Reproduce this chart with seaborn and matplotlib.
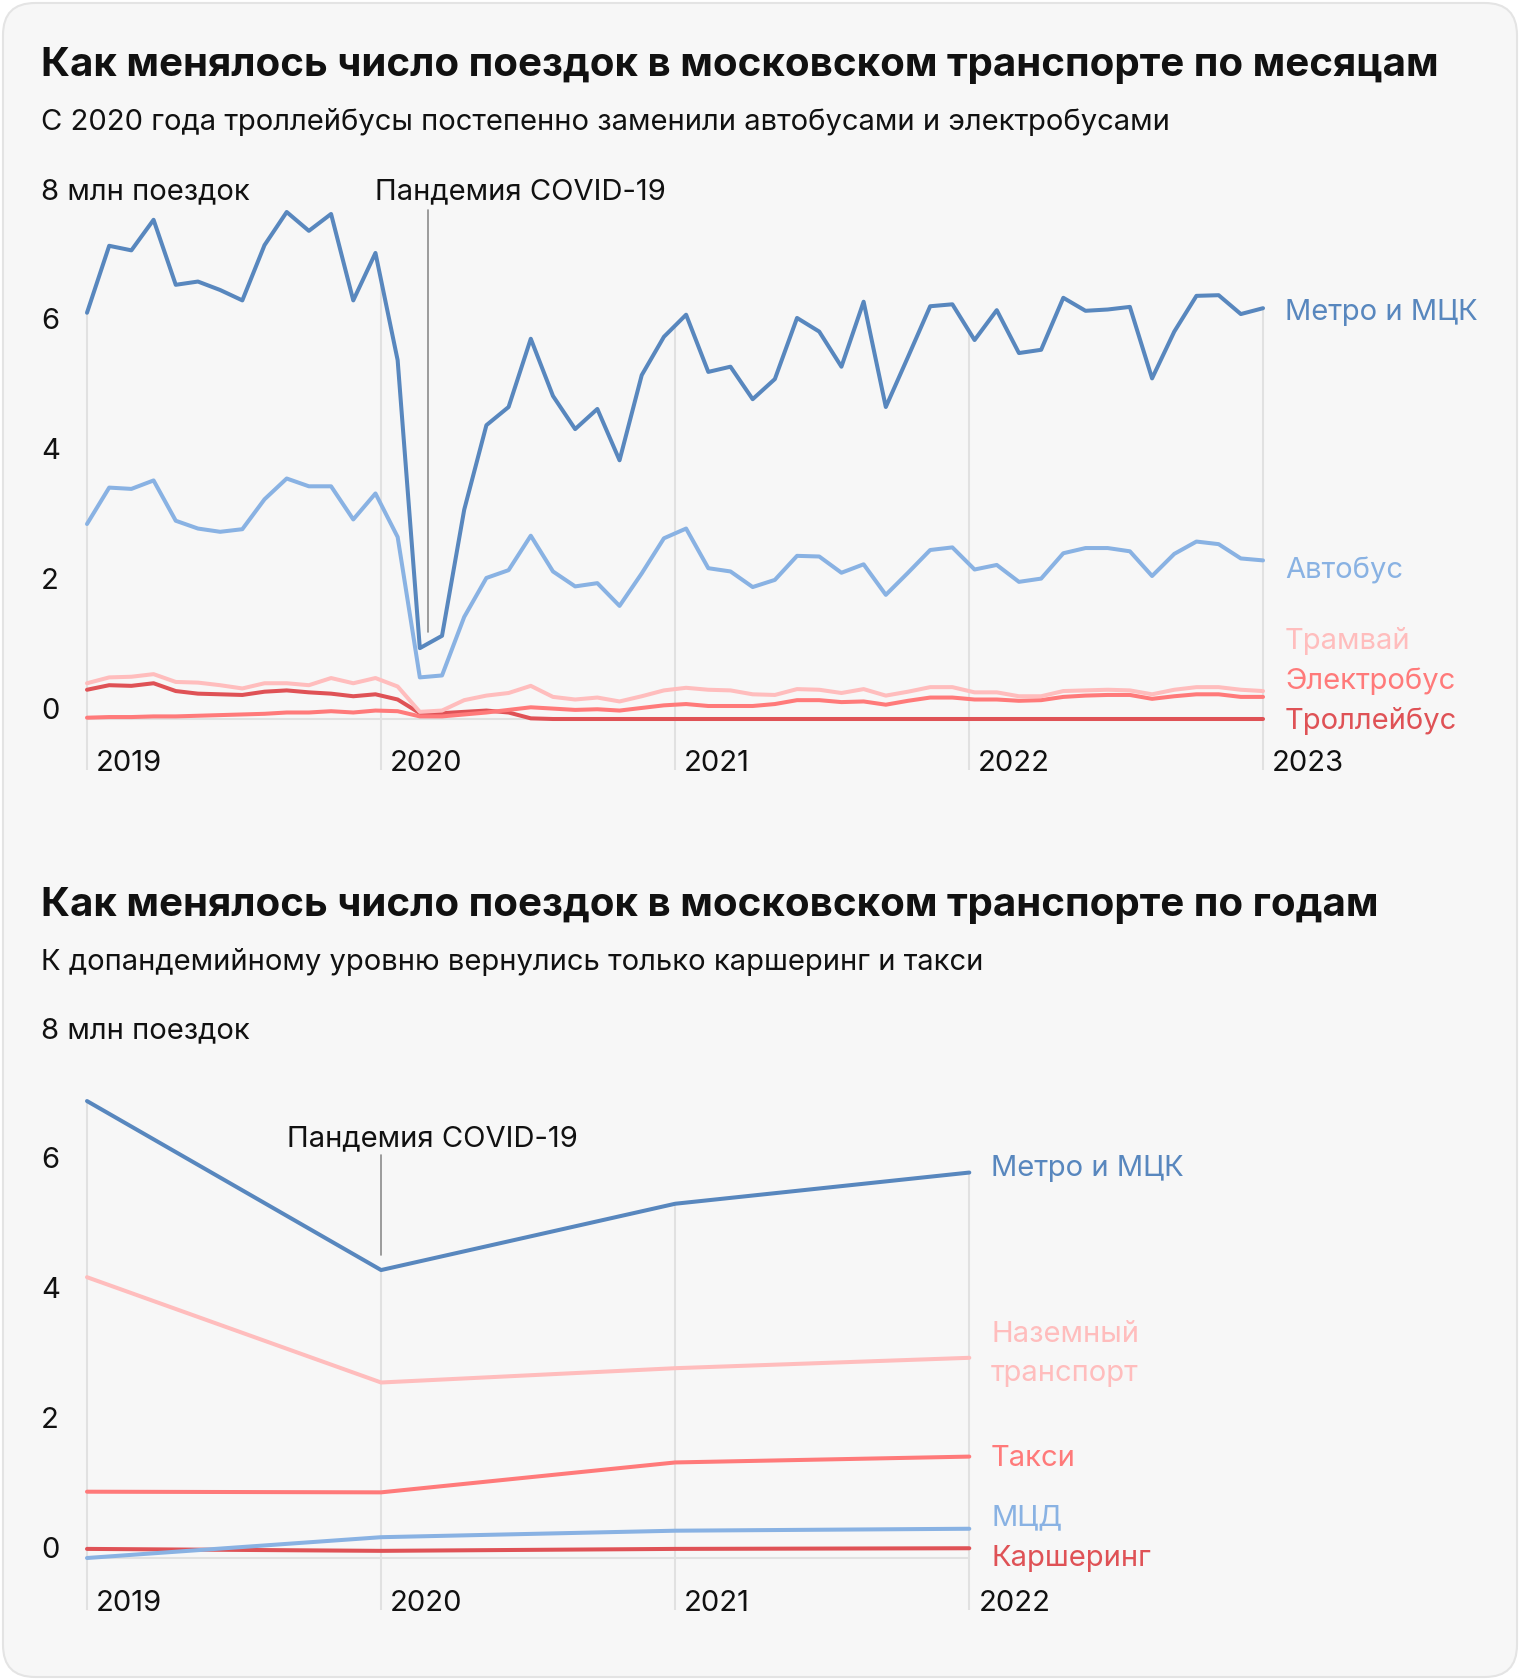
import numpy as np
import pandas as pd
import matplotlib
matplotlib.use("Agg")
import matplotlib.pyplot as plt
import seaborn as sns
from matplotlib.patches import FancyBboxPatch

# ---------------- data ----------------
months = list(range(54))
metro = [6.25, 7.28, 7.21, 7.68, 6.68, 6.73, 6.60, 6.44, 7.29, 7.80,
         7.51, 7.77, 6.44, 7.17, 5.52, 1.09, 1.28, 3.22, 4.52, 4.80,
         5.85, 4.97, 4.46, 4.77, 3.98, 5.29, 5.88, 6.22, 5.34, 5.42,
         4.92, 5.23, 6.17, 5.96, 5.42, 6.42, 4.80, 5.57, 6.35, 6.38,
         5.83, 6.29, 5.63, 5.68, 6.48, 6.28, 6.30, 6.34, 5.24, 5.96,
         6.51, 6.52, 6.23, 6.32]
bus = [3.00, 3.56, 3.54, 3.67, 3.05, 2.93, 2.88, 2.92, 3.38, 3.70,
       3.58, 3.58, 3.07, 3.47, 2.80, 0.64, 0.67, 1.57, 2.17, 2.29,
       2.82, 2.27, 2.04, 2.09, 1.74, 2.24, 2.78, 2.93, 2.32, 2.27,
       2.03, 2.14, 2.51, 2.50, 2.25, 2.38, 1.91, 2.25, 2.60, 2.64,
       2.30, 2.37, 2.11, 2.16, 2.55, 2.63, 2.63, 2.58, 2.20, 2.54,
       2.73, 2.69, 2.47, 2.44]
tram = [0.55, 0.64, 0.65, 0.69, 0.57, 0.56, 0.52, 0.47, 0.55, 0.55,
        0.52, 0.63, 0.55, 0.63, 0.50, 0.11, 0.13, 0.29, 0.36, 0.40,
        0.51, 0.34, 0.30, 0.33, 0.27, 0.35, 0.44, 0.48, 0.45, 0.44,
        0.38, 0.37, 0.46, 0.45, 0.40, 0.46, 0.36, 0.42, 0.49, 0.49,
        0.41, 0.41, 0.35, 0.35, 0.43, 0.44, 0.45, 0.44, 0.38, 0.45,
        0.49, 0.49, 0.45, 0.43]
ebus = [0.02, 0.03, 0.03, 0.04, 0.04, 0.05, 0.06, 0.07, 0.08, 0.10,
        0.10, 0.12, 0.10, 0.13, 0.12, 0.04, 0.04, 0.07, 0.10, 0.14,
        0.18, 0.16, 0.14, 0.15, 0.13, 0.17, 0.21, 0.23, 0.20, 0.20,
        0.20, 0.23, 0.29, 0.29, 0.26, 0.27, 0.22, 0.28, 0.33, 0.33,
        0.30, 0.30, 0.28, 0.29, 0.34, 0.36, 0.37, 0.37, 0.31, 0.35,
        0.38, 0.38, 0.34, 0.34]
trolley = [0.45, 0.52, 0.51, 0.55, 0.43, 0.39, 0.38, 0.37, 0.42, 0.44,
           0.41, 0.39, 0.35, 0.38, 0.30, 0.09, 0.09, 0.11, 0.13, 0.10,
           0.01, 0.0, 0.0, 0.0, 0.0, 0.0, 0.0, 0.0, 0.0, 0.0,
           0.0, 0.0, 0.0, 0.0, 0.0, 0.0, 0.0, 0.0, 0.0, 0.0,
           0.0, 0.0, 0.0, 0.0, 0.0, 0.0, 0.0, 0.0, 0.0, 0.0,
           0.0, 0.0, 0.0, 0.0]
top_series = ["Троллейбус", "Электробус", "Трамвай", "Автобус", "Метро и МЦК"]
top_years = ["2019", "2020", "2021", "2022", "2023"]

years = [0, 1, 2, 3]
year_labels = ["2019", "2020", "2021", "2022"]
y_metro = [7.03, 4.43, 5.45, 5.93]
y_ground = [4.32, 2.70, 2.92, 3.08]
y_taxi = [1.02, 1.01, 1.47, 1.56]
y_mcd = [0.0, 0.32, 0.42, 0.45]
y_carsh = [0.14, 0.11, 0.14, 0.15]
bottom_series = ["Каршеринг", "МЦД", "Такси", "Наземный транспорт", "Метро и МЦК"]

yticks = [0, 2, 4, 6, 8]

# ---------------- style ----------------
C_METRO = "#5887BE"
C_BUS = "#89B2E3"
C_TRAM = "#FFBDBD"
C_EBUS = "#FF7A7A"
C_TROL = "#DF5256"
top_pal = {"Метро и МЦК": C_METRO, "Автобус": C_BUS, "Трамвай": C_TRAM,
           "Электробус": C_EBUS, "Троллейбус": C_TROL}
bot_pal = {"Метро и МЦК": C_METRO, "Наземный транспорт": C_TRAM, "Такси": C_EBUS,
           "МЦД": C_BUS, "Каршеринг": C_TROL}

sns.set_theme(style="white")
plt.rcParams["font.family"] = ["Inter", "DejaVu Sans"]

W, H = 1520, 1680
fig = plt.figure(figsize=(W / 100, H / 100), dpi=100, facecolor="white")
card = FancyBboxPatch((0.03, 0.03), W / 100 - 0.06, H / 100 - 0.06,
                      boxstyle="round,pad=0,rounding_size=0.32",
                      transform=fig.dpi_scale_trans, facecolor="#F7F7F7",
                      edgecolor="#E4E4E4", linewidth=1.5, zorder=-10)
fig.patches.append(card)

TXT = "#111111"
FS = 21
TFS = 29
GRID = "#E1E1E1"

def fy(py):
    return 1 - py / H

# titles
fig.text(41 / W, fy(65), "Как менялось число поездок в московском транспорте по месяцам",
         fontsize=TFS, fontweight="bold", color=TXT, va="center", ha="left")
fig.text(41 / W, fy(122), "С 2020 года троллейбусы постепенно заменили автобусами и электробусами",
         fontsize=FS, color=TXT, va="center", ha="left")
fig.text(41 / W, fy(906), "Как менялось число поездок в московском транспорте по годам",
         fontsize=TFS, fontweight="bold", color=TXT, va="center", ha="left")
fig.text(41 / W, fy(962), "К допандемийному уровню вернулись только каршеринг и такси",
         fontsize=FS, color=TXT, va="center", ha="left")

# ---------------- top chart ----------------
X0, DX = 87.0, 22.189      # px of month 0, px per month
Z0, DY = 719.0, 65.0       # px of value 0, px per unit
L, R = 40.0, 1500.0
T, B = 180.0, 775.0
ax1 = fig.add_axes([L / W, 1 - B / H, (R - L) / W, (B - T) / H])
ax1.patch.set_visible(False)
ax1.set_xlim((L - X0) / DX, (R - X0) / DX)
ax1.set_ylim((Z0 - B) / DY, (Z0 - T) / DY)
ax1.axis("off")

df_top = pd.DataFrame({
    "month": months * 5,
    "value": trolley + ebus + tram + bus + metro,
    "series": sum([[s] * len(months) for s in top_series], []),
})

step = 53 / 4
grid_x = [i * step for i in range(5)]
for gx, lab in zip(grid_x, top_years):
    top_v = float(np.interp(gx, months, metro))
    ax1.plot([gx, gx], [(Z0 - 770) / DY, top_v], color=GRID, lw=1.5, zorder=1,
             solid_capstyle="butt")
    ax1.text(gx + 9 / DX, (Z0 - 771) / DY, lab, fontsize=FS, color=TXT,
             ha="left", va="baseline")
ax1.plot([0, 53], [0, 0], color=GRID, lw=1.5, zorder=1)

sns.lineplot(data=df_top, x="month", y="value", hue="series", hue_order=top_series,
             palette=top_pal, linewidth=2.9, legend=False, sort=False,
             estimator=None, ax=ax1, zorder=3)

for v in yticks:
    lab = "8 млн поездок" if v == 8 else str(v)
    ax1.text((41 - X0) / DX, v, lab, fontsize=FS, color=TXT, ha="left", va="baseline")

# covid annotation
ax1.text(13.0, 8, "Пандемия COVID-19", fontsize=FS, color=TXT, ha="left", va="baseline")
ax1.plot([15.35, 15.35], [(Z0 - 210) / DY, (Z0 - 632) / DY], color="#8C8C8C", lw=1.2, zorder=2)

top_lab_y = {"Метро и МЦК": 313, "Автобус": 571, "Трамвай": 641,
             "Электробус": 681, "Троллейбус": 721}
for s, py in top_lab_y.items():
    ax1.text((1285 - X0) / DX, (Z0 - py) / DY, s, fontsize=FS, color=top_pal[s],
             ha="left", va="center")

# ---------------- bottom chart ----------------
X0b, DXb = 87.0, 294.1
Z0b = 1558.0
Tb, Bb = 1020.0, 1615.0
ax2 = fig.add_axes([L / W, 1 - Bb / H, (R - L) / W, (Bb - Tb) / H])
ax2.patch.set_visible(False)
ax2.set_xlim((L - X0b) / DXb, (R - X0b) / DXb)
ax2.set_ylim((Z0b - Bb) / DY, (Z0b - Tb) / DY)
ax2.axis("off")

df_bot = pd.DataFrame({
    "year": years * 5,
    "value": y_carsh + y_mcd + y_taxi + y_ground + y_metro,
    "series": sum([[s] * len(years) for s in bottom_series], []),
})

for gx, lab in zip(years, year_labels):
    top_v = float(np.interp(gx, years, y_metro))
    ax2.plot([gx, gx], [(Z0b - 1610) / DY, top_v], color=GRID, lw=1.5, zorder=1,
             solid_capstyle="butt")
    ax2.text(gx + 9 / DXb, (Z0b - 1611) / DY, lab, fontsize=FS, color=TXT,
             ha="left", va="baseline")
ax2.plot([0, 3], [0, 0], color=GRID, lw=1.5, zorder=1)

sns.lineplot(data=df_bot, x="year", y="value", hue="series", hue_order=bottom_series,
             palette=bot_pal, linewidth=2.9, legend=False, sort=False,
             estimator=None, ax=ax2, zorder=3)

for v in yticks:
    lab = "8 млн поездок" if v == 8 else str(v)
    ax2.text((41 - X0b) / DXb, v, lab, fontsize=FS, color=TXT, ha="left", va="baseline")

ax2.text((287 - X0b) / DXb, (Z0b - 1146) / DY, "Пандемия COVID-19", fontsize=FS,
         color=TXT, ha="left", va="baseline")
ax2.plot([1, 1], [(Z0b - 1155) / DY, (Z0b - 1255) / DY], color="#8C8C8C", lw=1.2, zorder=2)

bot_lab_y = {"Метро и МЦК": 1168, "Наземный\nтранспорт": 1354, "Такси": 1458,
             "МЦД": 1518, "Каршеринг": 1559}
bot_lab_c = {"Метро и МЦК": C_METRO, "Наземный\nтранспорт": C_TRAM, "Такси": C_EBUS,
             "МЦД": C_BUS, "Каршеринг": C_TROL}
for s, py in bot_lab_y.items():
    ax2.text((991 - X0b) / DXb, (Z0b - py) / DY, s, fontsize=FS, color=bot_lab_c[s],
             ha="left", va="center", linespacing=1.6)

fig.savefig("out.png", dpi=100, facecolor="white")
